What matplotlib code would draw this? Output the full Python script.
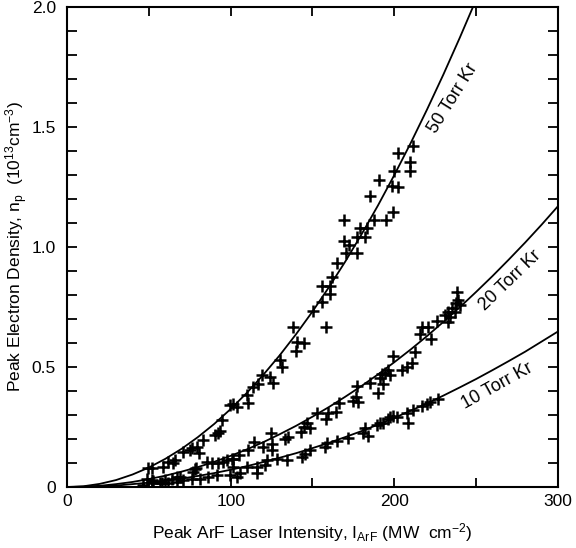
import matplotlib
matplotlib.use("Agg")
import matplotlib.pyplot as plt
from matplotlib.ticker import MultipleLocator

plt.rcParams['font.family'] = ['Liberation Sans', 'DejaVu Sans']
plt.rcParams['mathtext.default'] = 'regular'

# fitted curves
curve_x = [0, 10, 20, 30, 40, 50, 60, 70, 80, 90, 100, 110, 120, 130, 140, 150,
           160, 170, 180, 190, 200, 210, 220, 230, 240, 250, 260, 270, 280, 290, 300]
fit_50 = [0, 0.003, 0.013, 0.029, 0.052, 0.081, 0.117, 0.159, 0.208, 0.263, 0.325,
          0.393, 0.468, 0.549, 0.637, 0.731, 0.832, 0.939, 1.053, 1.173, 1.300,
          1.433, 1.573, 1.719, 1.872, 2.031, 2.197, 2.369, 2.548, 2.733, 2.925]
fit_20 = [0, 0.001, 0.005, 0.012, 0.021, 0.033, 0.047, 0.064, 0.083, 0.105, 0.130,
          0.157, 0.187, 0.220, 0.255, 0.293, 0.333, 0.376, 0.421, 0.469, 0.520,
          0.573, 0.629, 0.688, 0.749, 0.813, 0.879, 0.948, 1.019, 1.093, 1.170]
fit_10 = [0, 0.001, 0.003, 0.006, 0.012, 0.018, 0.026, 0.035, 0.046, 0.058, 0.072,
          0.087, 0.104, 0.122, 0.141, 0.162, 0.184, 0.208, 0.233, 0.260, 0.288,
          0.318, 0.348, 0.381, 0.415, 0.450, 0.487, 0.525, 0.564, 0.606, 0.648]

# measured points, 50 Torr Kr
x_50 = [49.5, 51.7, 58.8, 61.9, 65.0, 66.0, 71.0, 75.1, 76.2, 79.2, 80.8, 83.3,
        90.4, 92.4, 93.5, 94.5, 99.6, 101.6, 104.0, 109.8, 110.8, 113.8, 116.9,
        118.9, 124.0, 126.0, 130.1, 131.2, 137.9, 139.7, 140.3, 145.0, 150.1,
        155.6, 155.6, 158.0, 160.7, 160.7, 161.7, 165.1, 169.4, 169.4, 170.2,
        172.5, 177.0, 177.4, 179.0, 182.0, 183.1, 185.1, 187.7, 190.4, 194.9,
        198.3, 199.3, 199.8, 202.4, 202.4, 209.5, 209.5, 211.6]
y_50 = [0.080, 0.078, 0.085, 0.105, 0.100, 0.112, 0.147, 0.154, 0.161, 0.168, 0.143,
        0.196, 0.217, 0.224, 0.232, 0.280, 0.342, 0.346, 0.332, 0.383, 0.349, 0.415,
        0.429, 0.465, 0.460, 0.432, 0.529, 0.499, 0.665, 0.567, 0.605, 0.602, 0.735,
        0.770, 0.839, 0.668, 0.804, 0.839, 0.876, 0.935, 1.113, 1.026, 0.974,
        1.008, 0.974, 1.040, 1.078, 1.043, 1.078, 1.213, 1.113, 1.280, 1.113,
        1.254, 1.147, 1.318, 1.390, 1.249, 1.355, 1.318, 1.420]

# measured points, 20 Torr Kr
x_20 = [48.7, 51.7, 52.7, 57.9, 59.9, 64.0, 67.0, 69.0, 77.2, 78.2, 78.8, 85.3,
        88.4, 92.4, 95.5, 97.6, 100.6, 101.6, 105.3, 110.8, 114.2, 119.9, 124.4,
        125.0, 125.0, 133.2, 135.2, 142.7, 144.8, 146.8, 148.4, 152.5, 158.2,
        159.6, 164.3, 166.3, 174.5, 176.5, 177.0, 178.0, 185.1, 190.2, 191.2,
        192.2, 192.8, 194.3, 196.3, 197.3, 199.0, 204.5, 207.5, 210.6, 212.6,
        216.0, 216.7, 220.7, 222.2, 225.8, 230.9, 232.9, 232.9, 233.9, 235.0,
        237.0, 237.6, 238.4, 239.0, 240.0]
y_20 = [0.032, 0.029, 0.025, 0.015, 0.029, 0.032, 0.043, 0.040, 0.064, 0.074, 0.078,
        0.105, 0.101, 0.099, 0.105, 0.112, 0.115, 0.115, 0.133, 0.154, 0.189, 0.168,
        0.224, 0.179, 0.154, 0.199, 0.207, 0.230, 0.251, 0.268, 0.247, 0.310, 0.282,
        0.307, 0.314, 0.349, 0.360, 0.376, 0.420, 0.355, 0.432, 0.393, 0.453,
        0.471, 0.429, 0.474, 0.488, 0.467, 0.546, 0.488, 0.501, 0.515, 0.564,
        0.636, 0.665, 0.665, 0.615, 0.692, 0.717, 0.730, 0.689, 0.710, 0.745,
        0.730, 0.765, 0.814, 0.779, 0.758]

# measured points, 10 Torr Kr
x_10 = [46.6, 51.7, 56.8, 61.9, 67.0, 71.0, 76.2, 81.2, 86.3, 91.4, 99.6, 101.6,
        103.7, 105.7, 109.8, 115.9, 115.9, 121.0, 122.0, 128.1, 134.2, 143.4,
        145.4, 148.4, 157.6, 158.6, 165.1, 171.8, 180.6, 182.0, 184.1, 189.2,
        191.2, 193.2, 196.3, 197.3, 199.3, 201.4, 207.5, 208.5, 211.6, 216.7,
        219.7, 221.7, 226.8]
y_10 = [0.008, 0.015, 0.015, 0.018, 0.022, 0.029, 0.032, 0.032, 0.040, 0.050, 0.050,
        0.082, 0.043, 0.060, 0.082, 0.082, 0.060, 0.092, 0.112, 0.115, 0.112, 0.126,
        0.138, 0.154, 0.165, 0.182, 0.192, 0.203, 0.226, 0.245, 0.212, 0.258,
        0.265, 0.265, 0.282, 0.290, 0.296, 0.293, 0.307, 0.265, 0.321, 0.338,
        0.346, 0.355, 0.365]

fig = plt.figure(figsize=(5.76, 5.48), dpi=100)
ax = fig.add_axes([0.1163, 0.1113, 0.8524, 0.8759])

for fit in (fit_50, fit_20, fit_10):
    ax.plot(curve_x, fit, color='k', lw=1.3)
for xs, ys in ((x_50, y_50), (x_20, y_20), (x_10, y_10)):
    ax.plot(xs, ys, ls='none', marker='+', ms=8, mew=1.8, color='k')

ax.text(236, 1.62, '50 Torr Kr', rotation=58, ha='center', va='center', fontsize=13)
ax.text(271, 0.86, '20 Torr Kr', rotation=44, ha='center', va='center', fontsize=13)
ax.text(263, 0.42, '10 Torr Kr', rotation=29, ha='center', va='center', fontsize=13)

ax.set_xlim(0, 300)
ax.set_ylim(0, 2.0)
ax.set_xticks([0, 100, 200, 300])
ax.set_xticklabels(['0', '100', '200', '300'])
ax.set_yticks([0, 0.5, 1.0, 1.5, 2.0])
ax.set_yticklabels(['0', '0.5', '1.0', '1.5', '2.0'])
ax.xaxis.set_minor_locator(MultipleLocator(50))
ax.yaxis.set_minor_locator(MultipleLocator(0.1))
ax.tick_params(which='both', direction='in', top=True, right=True, width=1.3)
ax.tick_params(axis='x', which='both', length=6.5, pad=5, labelsize=12.5)
ax.tick_params(axis='y', which='both', length=7, pad=8, labelsize=12.5)
for s in ax.spines.values():
    s.set_linewidth(1.5)

ax.set_xlabel('Peak ArF Laser Intensity, I$_{ArF}$ (MW  cm$^{-2}$)', fontsize=12.5, labelpad=9)
ax.set_ylabel('Peak Electron Density, n$_p$  (10$^{13}$cm$^{-3}$)', fontsize=12.5, labelpad=1)

fig.savefig('out.png', dpi=100)
